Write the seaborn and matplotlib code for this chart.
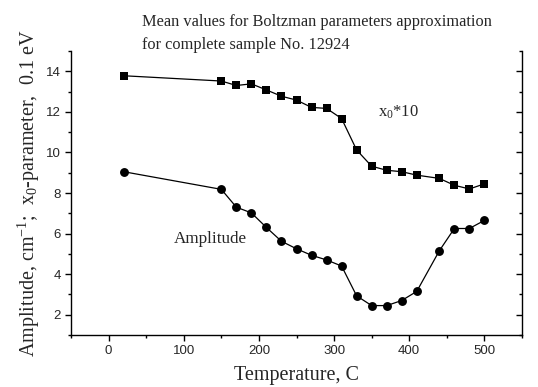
import matplotlib
matplotlib.use("Agg")
import matplotlib.pyplot as plt
import seaborn as sns
import pandas as pd
from matplotlib.ticker import MultipleLocator

temperature = [20, 150, 170, 190, 210, 230, 250, 270, 290, 310, 330, 350, 370, 390, 410, 440, 460, 480, 500]
x0_times10 = [13.78, 13.52, 13.30, 13.38, 13.08, 12.77, 12.58, 12.22, 12.17, 11.67, 10.12, 9.32, 9.12, 9.05, 8.88, 8.72, 8.38, 8.20, 8.45]
amplitude = [9.05, 8.18, 7.30, 7.02, 6.30, 5.62, 5.25, 4.93, 4.70, 4.40, 2.93, 2.45, 2.45, 2.70, 3.15, 5.15, 6.25, 6.25, 6.65]

title_lines = ["Mean values for Boltzman parameters approximation",
               "for complete sample No. 12924"]
xlabel = "Temperature, C"
ylabel = r"Amplitude, cm$^{-1}$;  x$_0$-parameter,  0.1 eV"

df = pd.DataFrame({"T": temperature, "x0": x0_times10, "amp": amplitude})

sns.set_style("ticks")
plt.rcParams["mathtext.fontset"] = "custom"
plt.rcParams["mathtext.rm"] = "Liberation Serif"
plt.rcParams["mathtext.it"] = "Liberation Serif"

fig = plt.figure(figsize=(5.38, 3.87), dpi=100)
ax = fig.add_axes([71/538, 52/387, (522-71)/538, (335-51)/387])

sns.lineplot(data=df, x="T", y="x0", ax=ax, color="black", lw=0.9,
             marker="s", markersize=5.6, markeredgewidth=0, markerfacecolor="black")
sns.lineplot(data=df, x="T", y="amp", ax=ax, color="black", lw=0.9,
             marker="o", markersize=6.4, markeredgewidth=0, markerfacecolor="black")

ax.set_xlim(-50, 550)
ax.set_ylim(1, 15)
ax.xaxis.set_major_locator(MultipleLocator(100))
ax.xaxis.set_minor_locator(MultipleLocator(50))
ax.yaxis.set_minor_locator(MultipleLocator(1))
ax.set_yticks([2, 4, 6, 8, 10, 12, 14])

ax.spines["top"].set_visible(False)
for s in ["left", "right", "bottom"]:
    ax.spines[s].set_linewidth(1.0)
    ax.spines[s].set_color("black")
ax.tick_params(axis="both", which="major", length=4, width=1, labelsize=9.5, color="black")
ax.tick_params(axis="both", which="minor", length=2.5, width=1, color="black")
ax.tick_params(axis="y", which="both", right=True, direction="out")
ax.tick_params(axis="x", which="both", top=False, direction="out")
for lab in ax.get_xticklabels() + ax.get_yticklabels():
    lab.set_family("Liberation Sans")
# right ticks pointing inward
for t in ax.yaxis.get_major_ticks() + ax.yaxis.get_minor_ticks():
    t.tick2line.set_marker(matplotlib.lines.TICKLEFT)

ax.set_xlabel(xlabel, family="Liberation Serif", fontsize=14.5, labelpad=6)
ax.set_ylabel(ylabel, family="Liberation Serif", fontsize=14.5, labelpad=3)

fig.text(142/538, 1 - 22/387, title_lines[0], family="Liberation Serif", fontsize=11.8,
         ha="left", va="center")
fig.text(142/538, 1 - 45/387, title_lines[1], family="Liberation Serif", fontsize=11.8,
         ha="left", va="center")

ax.text(358, 11.98, r"x$_0$*10", family="Liberation Serif", fontsize=12, ha="left", va="center")
ax.text(87, 5.75, "Amplitude", family="Liberation Serif", fontsize=12.3, ha="left", va="center")

fig.savefig("out.png", dpi=100)
